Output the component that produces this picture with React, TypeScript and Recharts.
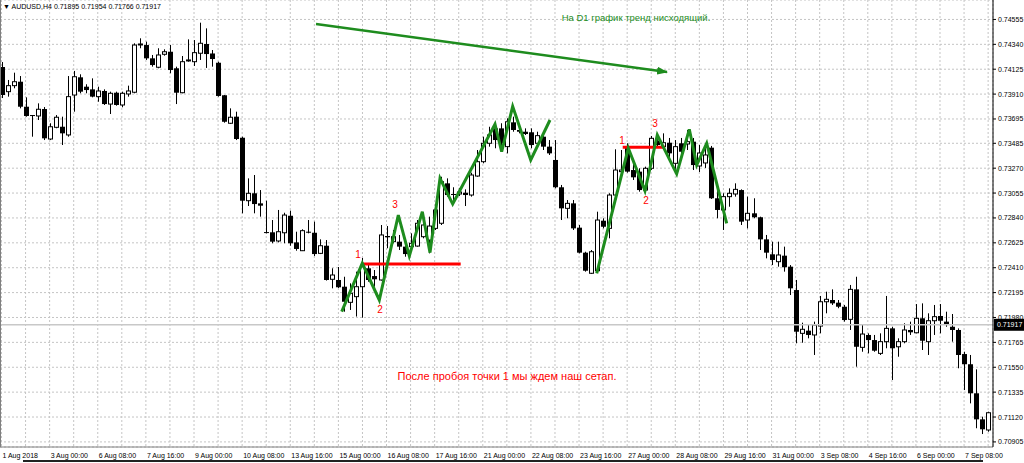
import React from 'react';
import {
  ComposedChart,
  Bar,
  Line,
  XAxis,
  YAxis,
  CartesianGrid,
  ReferenceLine,
  ReferenceDot,
} from 'recharts';

// AUDUSD H4 candles, one entry per bar
const opens = [
  0.74144, 0.73931, 0.73983, 0.74017, 0.73801, 0.73729, 0.73721, 0.73781, 0.73522, 0.73623,
  0.73628, 0.73557, 0.73902, 0.74055, 0.73974, 0.73951, 0.73888, 0.73937, 0.73824, 0.73922,
  0.73816, 0.73911, 0.73926, 0.74339, 0.74334, 0.74219, 0.74142, 0.74254, 0.74276, 0.74133,
  0.73922, 0.742, 0.7419, 0.74263, 0.74343, 0.74261, 0.74181, 0.739, 0.73658, 0.73715,
  0.73533, 0.72989, 0.73053, 0.72966, 0.72718, 0.72716, 0.72641, 0.72712, 0.72859, 0.72629,
  0.72557, 0.72721, 0.72712, 0.72534, 0.726, 0.7231, 0.72304, 0.72246, 0.72111, 0.7216,
  0.72246, 0.72405, 0.72338, 0.72304, 0.72684, 0.72635, 0.72635, 0.72592, 0.72592, 0.72597,
  0.72678, 0.72649, 0.7275, 0.72794, 0.73139, 0.73047, 0.73047, 0.73058, 0.73038, 0.73202,
  0.73326, 0.73485, 0.73614, 0.73614, 0.73456, 0.73666, 0.736, 0.73585, 0.7358, 0.73485,
  0.73542, 0.73456, 0.73341, 0.73105, 0.72923, 0.72966, 0.72756, 0.7254, 0.72362, 0.72384,
  0.72816, 0.7275, 0.73038, 0.7324, 0.73447, 0.73254, 0.7324, 0.73081, 0.73269, 0.73509,
  0.73456, 0.7349, 0.73312, 0.73485, 0.73479, 0.73499, 0.73289, 0.73315, 0.73447, 0.7301,
  0.72909, 0.73024, 0.73047, 0.73081, 0.72822, 0.7288, 0.72846, 0.72655, 0.72526, 0.72462,
  0.72514, 0.72419, 0.72217, 0.71843, 0.71866, 0.71829, 0.71906, 0.72116, 0.72131, 0.72108,
  0.72073, 0.71964, 0.72223, 0.71722, 0.71829, 0.71785, 0.7167, 0.71771, 0.71886, 0.71727,
  0.71771, 0.71872, 0.71848, 0.71973, 0.71771, 0.71952, 0.71993, 0.71944, 0.719, 0.71872,
  0.71664, 0.71576, 0.71325, 0.711, 0.71008,
];

const highs = [
  0.74187, 0.74032, 0.74095, 0.74066, 0.73882, 0.73729, 0.7383, 0.73798, 0.73658, 0.73729,
  0.73715, 0.74066, 0.7411, 0.74081, 0.73995, 0.74046, 0.73974, 0.73951, 0.73931, 0.73931,
  0.73931, 0.73983, 0.74349, 0.74392, 0.74363, 0.74248, 0.74306, 0.74297, 0.74334, 0.74147,
  0.74239, 0.74383, 0.74377, 0.74527, 0.74478, 0.74291, 0.7419, 0.73902, 0.73787, 0.73758,
  0.73542, 0.73182, 0.73211, 0.73081, 0.72989, 0.72822, 0.72909, 0.72885, 0.72903, 0.72721,
  0.72742, 0.72822, 0.72808, 0.72655, 0.72649, 0.72405, 0.72416, 0.72332, 0.72275, 0.72376,
  0.72494, 0.72451, 0.7239, 0.72779, 0.7277, 0.72736, 0.72693, 0.72621, 0.72707, 0.72822,
  0.7288, 0.72851, 0.72937, 0.73196, 0.73182, 0.73105, 0.73099, 0.73087, 0.73231, 0.73427,
  0.73542, 0.73628, 0.73658, 0.73658, 0.73701, 0.73715, 0.73628, 0.73614, 0.73614, 0.73585,
  0.73571, 0.73513, 0.73513, 0.73125, 0.72995, 0.72995, 0.72779, 0.72548, 0.72563, 0.72894,
  0.72837, 0.73053, 0.73433, 0.73427, 0.73485, 0.73312, 0.73269, 0.73283, 0.73548, 0.73557,
  0.73571, 0.73531, 0.73513, 0.73531, 0.736, 0.73531, 0.7347, 0.73444, 0.73462, 0.73081,
  0.73053, 0.73096, 0.73139, 0.73087, 0.73024, 0.7301, 0.72851, 0.72693, 0.72635, 0.72635,
  0.72592, 0.72433, 0.72304, 0.71935, 0.71915, 0.71944, 0.72166, 0.72203, 0.72223, 0.72131,
  0.72088, 0.72261, 0.72332, 0.71915, 0.71843, 0.71829, 0.71843, 0.72166, 0.719, 0.718,
  0.7193, 0.71944, 0.72096, 0.72102, 0.72016, 0.72088, 0.72096, 0.7203, 0.7201, 0.71886,
  0.71684, 0.71656, 0.71532, 0.71123, 0.71166,
];

const lows = [
  0.73876, 0.73888, 0.7396, 0.73787, 0.73715, 0.73542, 0.73686, 0.73513, 0.73513, 0.73615,
  0.7347, 0.73542, 0.73758, 0.73917, 0.73917, 0.73882, 0.73844, 0.73816, 0.73738, 0.7381,
  0.73796, 0.73888, 0.73917, 0.74306, 0.74205, 0.74147, 0.74133, 0.74242, 0.7409, 0.73824,
  0.73917, 0.7419, 0.74153, 0.74205, 0.74136, 0.74147, 0.73888, 0.73663, 0.73652, 0.73513,
  0.7288, 0.72943, 0.7288, 0.72851, 0.72707, 0.72621, 0.72629, 0.72621, 0.726, 0.72557,
  0.72554, 0.72707, 0.72511, 0.72528, 0.72299, 0.72232, 0.72235, 0.7203, 0.72045, 0.71988,
  0.71979, 0.72289, 0.72246, 0.72299, 0.72578, 0.72621, 0.72563, 0.72505, 0.72578, 0.72592,
  0.72664, 0.72534, 0.72736, 0.72779, 0.73024, 0.72995, 0.7303, 0.72943, 0.73024, 0.73196,
  0.73312, 0.73456, 0.73442, 0.73427, 0.73398, 0.73585, 0.73571, 0.73557, 0.73442, 0.73456,
  0.73427, 0.73384, 0.73096, 0.72822, 0.72837, 0.72736, 0.72534, 0.72376, 0.72356, 0.72364,
  0.7275, 0.72664, 0.73024, 0.73226, 0.73231, 0.73168, 0.73067, 0.73067, 0.73254, 0.73444,
  0.73427, 0.73341, 0.73237, 0.73341, 0.73427, 0.73254, 0.73237, 0.73272, 0.73004, 0.72837,
  0.72736, 0.72937, 0.73024, 0.72779, 0.7275, 0.72837, 0.72563, 0.72491, 0.72433, 0.72419,
  0.72376, 0.72174, 0.71757, 0.71762, 0.718, 0.71656, 0.71843, 0.72016, 0.72088, 0.7206,
  0.71944, 0.71872, 0.71555, 0.71684, 0.7167, 0.71684, 0.71656, 0.71714, 0.7144, 0.71641,
  0.71757, 0.71829, 0.71843, 0.71699, 0.71656, 0.71829, 0.71843, 0.719, 0.71771, 0.71541,
  0.71353, 0.71238, 0.71023, 0.70973, 0.70993,
];

const closes = [
  0.73902, 0.73983, 0.74017, 0.73801, 0.73721, 0.73725, 0.73779, 0.73528, 0.73628, 0.7371,
  0.73571, 0.73888, 0.7406, 0.73931, 0.73945, 0.73888, 0.73937, 0.73824, 0.73917, 0.73816,
  0.73917, 0.73937, 0.74334, 0.74343, 0.74219, 0.74161, 0.74248, 0.74276, 0.74118, 0.73922,
  0.7419, 0.74205, 0.74268, 0.74349, 0.74256, 0.74213, 0.73894, 0.73671, 0.7371, 0.73522,
  0.72989, 0.73053, 0.7296, 0.72946, 0.72714, 0.72635, 0.72721, 0.72865, 0.72621, 0.72572,
  0.7273, 0.72718, 0.72528, 0.726, 0.72304, 0.72347, 0.72241, 0.72116, 0.72189, 0.72246,
  0.72419, 0.72304, 0.7231, 0.72693, 0.72673, 0.72678, 0.72592, 0.72528, 0.72621, 0.72794,
  0.72779, 0.7277, 0.72909, 0.73153, 0.73038, 0.73044, 0.73064, 0.73038, 0.73211, 0.73326,
  0.73485, 0.73557, 0.73513, 0.73485, 0.73671, 0.736, 0.73585, 0.73565, 0.7347, 0.73551,
  0.73456, 0.73398, 0.73105, 0.72923, 0.72966, 0.7275, 0.7254, 0.72384, 0.72548, 0.72822,
  0.72764, 0.73038, 0.73254, 0.73254, 0.7324, 0.73191, 0.73081, 0.73269, 0.73528, 0.7347,
  0.7349, 0.73398, 0.73456, 0.73412, 0.73499, 0.73297, 0.73401, 0.73384, 0.7301, 0.72909,
  0.73024, 0.73053, 0.73087, 0.72808, 0.7288, 0.72846, 0.72655, 0.7254, 0.72477, 0.7252,
  0.72414, 0.72232, 0.71857, 0.71878, 0.71829, 0.71915, 0.72116, 0.72137, 0.72102, 0.72073,
  0.71958, 0.72223, 0.71727, 0.71837, 0.71785, 0.71693, 0.71771, 0.71886, 0.71714, 0.71771,
  0.71872, 0.71852, 0.71973, 0.71779, 0.71952, 0.71987, 0.71952, 0.71915, 0.71872, 0.71656,
  0.71576, 0.71325, 0.711, 0.71014, 0.71157,
];

// time scale labels, one every 8 bars starting at bar 0
const timeLabels = [
  '1 Aug 2018', '3 Aug 00:00', '6 Aug 08:00', '7 Aug 16:00', '9 Aug 00:00', '10 Aug 08:00',
  '13 Aug 16:00', '15 Aug 00:00', '16 Aug 08:00', '17 Aug 16:00', '21 Aug 00:00', '22 Aug 08:00',
  '23 Aug 16:00', '27 Aug 00:00', '28 Aug 08:00', '29 Aug 16:00', '31 Aug 00:00', '3 Sep 08:00',
  '4 Sep 16:00', '6 Sep 00:00', '7 Sep 08:00',
];

const priceTicks = [
  0.74555, 0.7434, 0.74125, 0.7391, 0.73695, 0.73485, 0.7327, 0.73055, 0.7284, 0.72625,
  0.7241, 0.72195, 0.7198, 0.71765, 0.7155, 0.71335, 0.7112, 0.70905,
];

const bidPrice = 0.71917;

// hand drawn zigzags (bar index, price)
const zigzagLeft = [
  { i: 56.55, price: 0.7203 }, { i: 59.97, price: 0.72448 }, { i: 62.8, price: 0.72131 },
  { i: 65.96, price: 0.72865 }, { i: 67.79, price: 0.72511 }, { i: 69.95, price: 0.72894 },
  { i: 71.23, price: 0.7254 }, { i: 72.89, price: 0.73182 }, { i: 75.0, price: 0.7296 },
  { i: 82.03, price: 0.73649 }, { i: 83.14, price: 0.73412 }, { i: 84.97, price: 0.73804 },
  { i: 87.97, price: 0.73341 }, { i: 91.17, price: 0.73686 },
];

const zigzagRight = [
  { i: 98.94, price: 0.72362 }, { i: 104.19, price: 0.73442 }, { i: 106.96, price: 0.73075 },
  { i: 109.01, price: 0.73557 }, { i: 112.23, price: 0.7322 }, { i: 114.33, price: 0.73606 },
  { i: 115.56, price: 0.73297 }, { i: 117.22, price: 0.73485 }, { i: 120.54, price: 0.72794 },
];

const levelLeft = [{ i: 59.97, price: 0.72442 }, { i: 76.33, price: 0.72442 }];
const levelRight = [{ i: 103.26, price: 0.7345 }, { i: 110.29, price: 0.7345 }];
const trendArrow = [{ i: 52.28, price: 0.74516 }, { i: 110.62, price: 0.74101 }];

const pointLabels = [
  { i: 59.26, price: 0.72528, text: '1' },
  { i: 62.92, price: 0.72045, text: '2' },
  { i: 65.41, price: 0.7296, text: '3' },
  { i: 103.14, price: 0.73513, text: '1' },
  { i: 107.13, price: 0.72995, text: '2' },
  { i: 108.63, price: 0.73652, text: '3' },
];

const notes = [
  { i: 105.47, price: 0.74576, text: 'На D1 график тренд нисходящий.', color: '#1e8c1e', size: 9.5 },
  { i: 84.03, price: 0.71474, text: 'После пробоя точки 1 мы ждем наш сетап.', color: '#ff0000', size: 11 },
];

const GREEN = '#1e8c1e';
const RED = '#ff0000';
const FONT = '"Liberation Sans", Arial, sans-serif';

const candles = opens.map((o, i) => ({
  i,
  open: o,
  high: highs[i],
  low: lows[i],
  close: closes[i],
}));

const gridTicks = candles.filter((c) => c.i % 4 === 0).map((c) => c.i);

function Candle(props: any) {
  const { x, y, width, height, payload } = props;
  if (x == null || y == null) return null;
  const top = Math.min(y, y + height);
  const h = Math.abs(height);
  const range = payload.high - payload.low || 1e-9;
  const yOf = (p: number) => top + ((payload.high - p) / range) * h;
  const cx = Math.round(x + width / 2) + 0.5;
  const yo = yOf(payload.open);
  const yc = yOf(payload.close);
  const bodyTop = Math.min(yo, yc);
  const bodyH = Math.max(Math.abs(yo - yc), 1);
  const bull = payload.close >= payload.open;
  return (
    <g>
      <line x1={cx} x2={cx} y1={top} y2={top + h} stroke="#000" strokeWidth={1} />
      {bull ? (
        <rect x={cx - 2} y={bodyTop} width={4} height={bodyH} fill="#fff" stroke="#000" strokeWidth={1} />
      ) : (
        <rect x={cx - 2.5} y={bodyTop} width={5} height={bodyH} fill="#000" />
      )}
    </g>
  );
}

function TimeTick(props: any) {
  const { x, y, payload } = props;
  if (payload.value % 8 !== 0) return null;
  const label = timeLabels[payload.value / 8];
  if (!label) return null;
  return (
    <text x={x + 1} y={y + 9} fontSize={7} fill="#000" fontFamily={FONT}>
      {label}
    </text>
  );
}

function PriceTick(props: any) {
  const { x, y, payload } = props;
  return (
    <text x={x} y={y + 2.5} fontSize={7} fill="#000" fontFamily={FONT}>
      {payload.value.toFixed(5)}
    </text>
  );
}

function BidLabel(props: any) {
  const { viewBox } = props;
  const right = viewBox.x + viewBox.width;
  return (
    <g>
      <rect x={right + 1} y={viewBox.y - 6} width={30} height={12} fill="#000" />
      <text x={right + 4} y={viewBox.y + 2.5} fontSize={7} fill="#fff" fontFamily={FONT}>
        {bidPrice.toFixed(5)}
      </text>
    </g>
  );
}

export default function App() {
  return (
    <div
      style={{
        position: 'absolute',
        left: 0,
        top: 0,
        width: 1024,
        height: 463,
        background: '#fff',
        overflow: 'hidden',
      }}
    >
      <ComposedChart
        width={1024}
        height={463}
        data={candles}
        margin={{ top: 0, right: 0, left: 0, bottom: 0 }}
      >
        <defs>
          <marker
            id="arrowHead"
            viewBox="0 0 11 8"
            refX="10"
            refY="4"
            markerWidth="11"
            markerHeight="8"
            markerUnits="userSpaceOnUse"
            orient="auto"
          >
            <path d="M0,0 L11,4 L0,8 z" fill={GREEN} />
          </marker>
        </defs>
        <CartesianGrid stroke="#c4c4c4" strokeDasharray="2 2" />
        <XAxis
          dataKey="i"
          type="number"
          domain={[-0.25, 164.81]}
          ticks={gridTicks}
          interval={0}
          allowDataOverflow
          height={16}
          tickLine={false}
          tickSize={0}
          axisLine={{ stroke: '#808080' }}
          tick={<TimeTick />}
        />
        <YAxis
          orientation="right"
          type="number"
          domain={[0.70861, 0.74723]}
          ticks={priceTicks}
          interval={0}
          allowDataOverflow
          width={31}
          tickSize={3}
          tickMargin={2}
          tickLine={{ stroke: '#000' }}
          axisLine={{ stroke: '#000' }}
          tick={<PriceTick />}
        />
        <ReferenceLine y={bidPrice} stroke="#c8c8c8" strokeWidth={1.5} label={<BidLabel />} />
        <Bar
          dataKey={(d: any) => [d.low, d.high]}
          barSize={4}
          shape={<Candle />}
          isAnimationActive={false}
        />
        <Line
          data={trendArrow}
          dataKey="price"
          stroke={GREEN}
          strokeWidth={2.5}
          dot={false}
          isAnimationActive={false}
          markerEnd="url(#arrowHead)"
        />
        <Line data={levelLeft} dataKey="price" stroke={RED} strokeWidth={3} dot={false} isAnimationActive={false} />
        <Line data={levelRight} dataKey="price" stroke={RED} strokeWidth={3} dot={false} isAnimationActive={false} />
        <Line data={zigzagLeft} dataKey="price" stroke={GREEN} strokeWidth={3} dot={false} isAnimationActive={false} />
        <Line data={zigzagRight} dataKey="price" stroke={GREEN} strokeWidth={3} dot={false} isAnimationActive={false} />
        {pointLabels.map((p, k) => (
          <ReferenceDot
            key={'p' + k}
            x={p.i}
            y={p.price}
            r={0}
            shape={(s: any) => (
              <text x={s.cx} y={s.cy + 3.5} textAnchor="middle" fontSize={10} fill={RED} fontFamily={FONT}>
                {p.text}
              </text>
            )}
          />
        ))}
        {notes.map((n, k) => (
          <ReferenceDot
            key={'n' + k}
            x={n.i}
            y={n.price}
            r={0}
            shape={(s: any) => (
              <text x={s.cx} y={s.cy + 3.5} textAnchor="middle" fontSize={n.size} fill={n.color} fontFamily={FONT}>
                {n.text}
              </text>
            )}
          />
        ))}
      </ComposedChart>
      <div
        style={{
          position: 'absolute',
          left: 3,
          top: 3,
          fontFamily: FONT,
          fontSize: 7,
          color: '#000',
          whiteSpace: 'nowrap',
        }}
      >
        {'\u25BC AUDUSD,H4 0.71895 0.71954 0.71766 0.71917'}
      </div>
      <div style={{ position: 'absolute', left: 0, top: 0, width: 1, height: 447, background: '#808080' }} />
      <div style={{ position: 'absolute', left: 23, top: 460, width: 960, height: 2, background: '#222' }} />
    </div>
  );
}
